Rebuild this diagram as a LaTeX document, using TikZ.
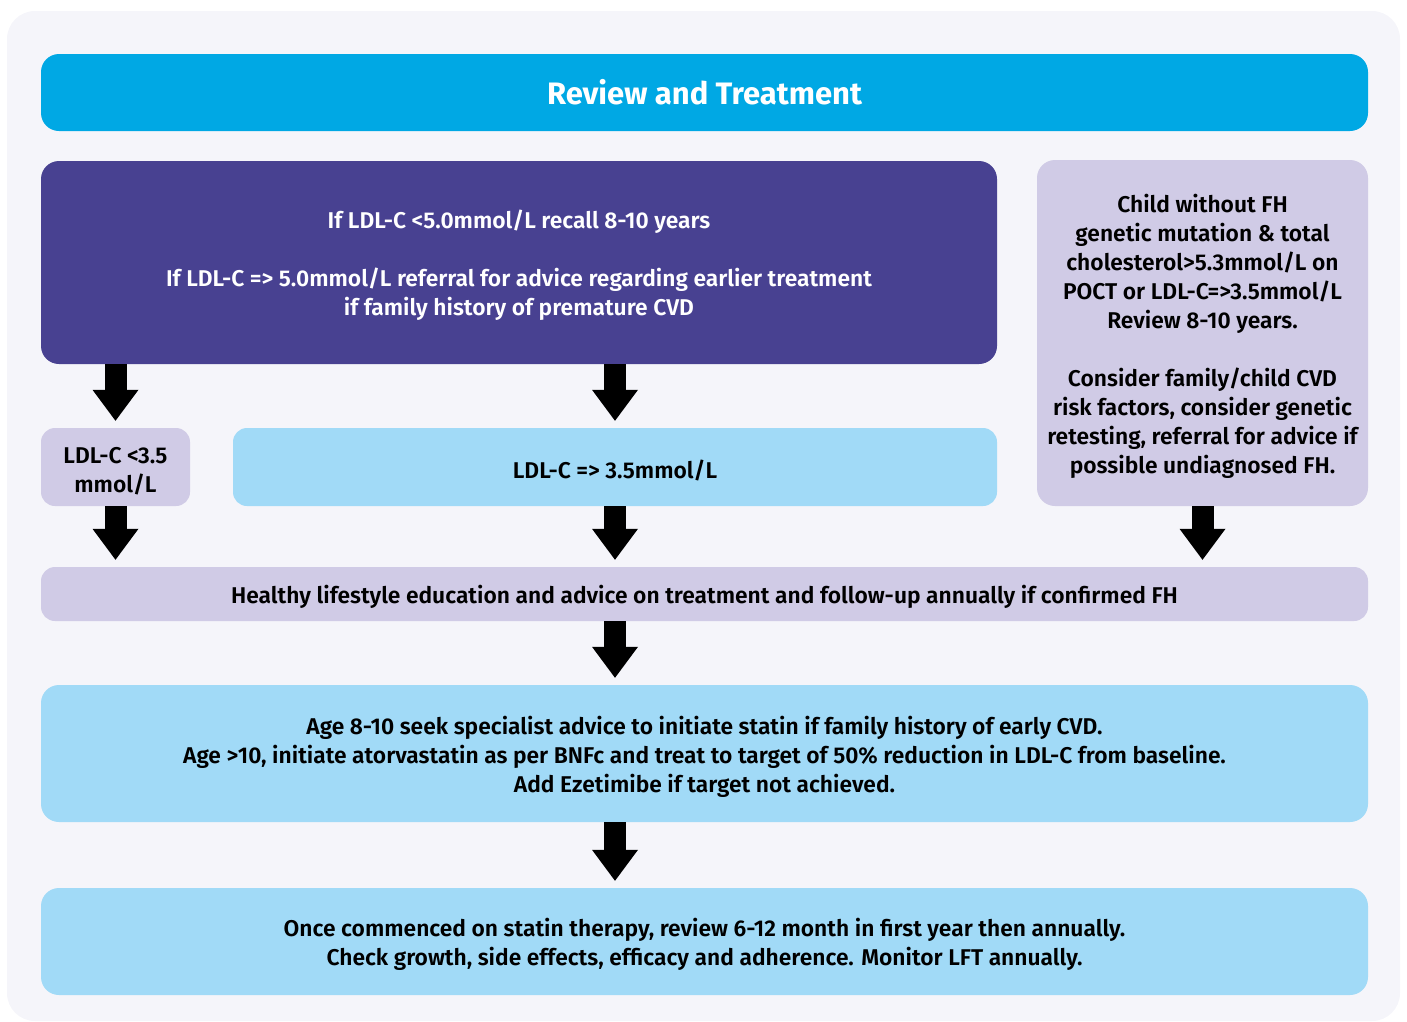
\documentclass[tikz,border=0pt]{standalone}
\usepackage{fontspec}
\setmainfont{Fira Sans}[BoldFont={Fira Sans SemiBold}]
\newfontfamily\titlefont{Fira Sans}
\usetikzlibrary{arrows.meta}
\definecolor{bgcol}{RGB}{245,245,250}
\definecolor{headcol}{RGB}{0,168,228}
\definecolor{darkcol}{RGB}{72,65,145}
\definecolor{lavcol}{RGB}{208,203,230}
\definecolor{skycol}{RGB}{161,218,247}
\newcommand{\firstline}{\rule{0pt}{24.5pt}}

\begin{document}
\begin{tikzpicture}
	[x=1pt, y=-1pt, font=\bfseries\fontsize{22.8}{29}\selectfont,
	 box/.style={rounded corners=18pt, inner sep=0pt, align=center},
	 blockarrow/.style={line width=22pt, shorten >=7pt,
		-{Triangle[width=46pt, length=31pt, line width=0pt]}}]
	\useasboundingbox (0,0) rectangle (1407,1021);
	\fill[bgcol, rounded corners=28pt] (7,11) rectangle (1400,1021);
	\node[box, fill=headcol, text=white, minimum width=1327pt, minimum height=77pt,
		font=\titlefont\bfseries\fontsize{31}{34}\selectfont] (title) at (704.5,92.5) {Review and Treatment};
	\node[box, fill=darkcol, text=white, minimum width=956pt, minimum height=203pt] (recall) at (519,262.5)
		{\firstline If LDL-C <5.0mmol/L recall 8-10 years\\[29pt]
		 If LDL-C => 5.0mmol/L referral for advice regarding earlier treatment\\
		 if family history of premature CVD};
	\node[box, fill=lavcol, minimum width=331pt, minimum height=346pt] (child) at (1202.5,333)
		{\firstline Child without FH\\ genetic mutation \& total\\ cholesterol>5.3mmol/L on\\
		 POCT or LDL-C=>3.5mmol/L\\ Review 8-10 years.\\[29pt]
		 Consider family/child CVD\\ risk factors, consider genetic\\
		 retesting, referral for advice if\\ possible undiagnosed FH.};
	\node[box, fill=lavcol, minimum width=149pt, minimum height=78pt, rounded corners=14pt] (low) at (115.5,467)
		{\firstline LDL-C <3.5\\ mmol/L};
	\node[box, fill=skycol, minimum width=764pt, minimum height=78pt, rounded corners=14pt] (high) at (615,467)
		{\firstline LDL-C => 3.5mmol/L};
	\node[box, fill=lavcol, minimum width=1327pt, minimum height=54pt, rounded corners=14pt] (life) at (704.5,594)
		{\firstline Healthy lifestyle education and advice on treatment and follow-up annually if confirmed FH};
	\node[box, fill=skycol, minimum width=1327pt, minimum height=137pt] (statin) at (704.5,753.5)
		{\firstline Age 8-10 seek specialist advice to initiate statin if family history of early CVD.\\
		 Age >10, initiate atorvastatin as per BNFc and treat to target of 50\% reduction in LDL-C from baseline.\\
		 Add Ezetimibe if target not achieved.};
	\node[box, fill=skycol, minimum width=1327pt, minimum height=107pt] (review) at (704.5,941.5)
		{\firstline Once commenced on statin therapy, review 6-12 month in first year then annually.\\
		 Check growth, side effects, efficacy and adherence. Monitor LFT annually.};
	\foreach \f/\t in {{low.north |- recall.south}/low.north,
		{high.north |- recall.south}/high.north,
		low.south/{low.south |- life.north},
		high.south/{high.south |- life.north},
		child.south/{child.south |- life.north},
		{high.south |- life.south}/{high.south |- statin.north},
		{high.south |- statin.south}/{high.south |- review.north}}
	{	\draw[blockarrow] (\f) -- (\t);
		}
	\end{tikzpicture}
\end{document}
